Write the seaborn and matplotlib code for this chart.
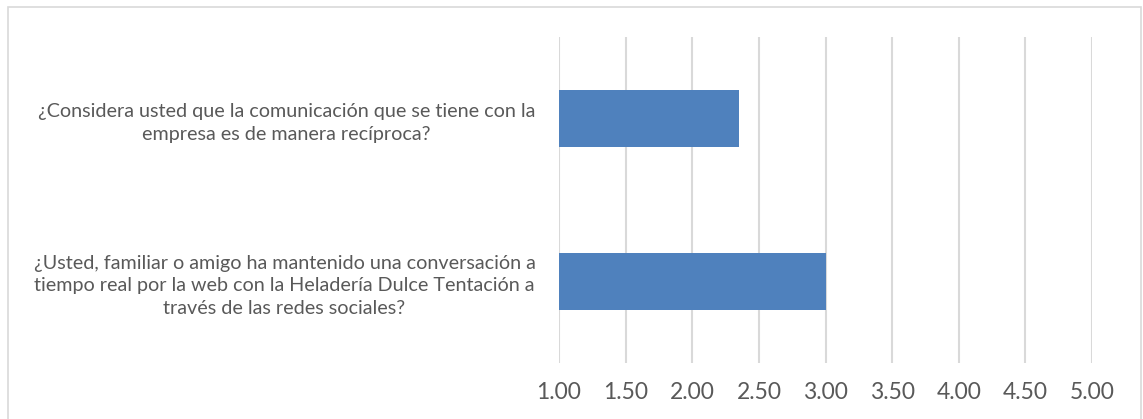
import matplotlib
matplotlib.use("Agg")
import matplotlib.pyplot as plt
from matplotlib.patches import Rectangle
import seaborn as sns
import pandas as pd

questions = [
    "¿Considera usted que la comunicación que se tiene con la\nempresa es de manera recíproca?",
    "¿Usted, familiar o amigo ha mantenido una conversación a\ntiempo real por la web con la Heladería Dulce Tentación a\ntravés de las redes sociales?",
]
scores = [2.35, 3.00]
x_ticks = [1.0, 1.5, 2.0, 2.5, 3.0, 3.5, 4.0, 4.5, 5.0]
x_tick_labels = ["1.00", "1.50", "2.00", "2.50", "3.00", "3.50", "4.00", "4.50", "5.00"]
baseline = 1.0

sns.set_theme(style="white")
plt.rcParams["font.family"] = ["Lato", "DejaVu Sans"]

df = pd.DataFrame({"question": questions, "score": scores})
df["length"] = df["score"] - baseline

fig = plt.figure(figsize=(11.43, 4.19), dpi=100)
ax = fig.add_axes([559 / 1143, 1 - 363 / 419, (1092 - 559) / 1143, (363 - 37) / 419])

sns.barplot(data=df, x="length", y="question", left=baseline, color="#4f81bd",
            saturation=1, width=0.35, orient="h", ax=ax, edgecolor="none")

ax.set_xlim(1.0, 5.0)
ax.set_ylim(1.5, -0.5)
ax.set_xticks(x_ticks)
ax.set_xticklabels(x_tick_labels, fontsize=16.5, color="#595959")
ax.xaxis.grid(True, color="#d9d9d9", linewidth=1.5)
ax.set_axisbelow(True)
ax.tick_params(axis="both", length=0)
ax.tick_params(axis="x", pad=14)
ax.tick_params(axis="y", pad=17)
for lbl in ax.get_yticklabels():
    lbl.set_fontsize(14.2)
    lbl.set_color("#595959")
    lbl.set_multialignment("center")
    lbl.set_linespacing(1.42)
ax.set_xlabel("")
ax.set_ylabel("")
for s in ax.spines.values():
    s.set_visible(False)

fig.patches.append(Rectangle((8 / 1143, -0.05), (1141 - 8) / 1143, 1.05 - 7 / 419,
                             transform=fig.transFigure, fill=False,
                             edgecolor="#d9d9d9", linewidth=1.2, zorder=0))

fig.savefig("out.png", dpi=100, facecolor="white")
